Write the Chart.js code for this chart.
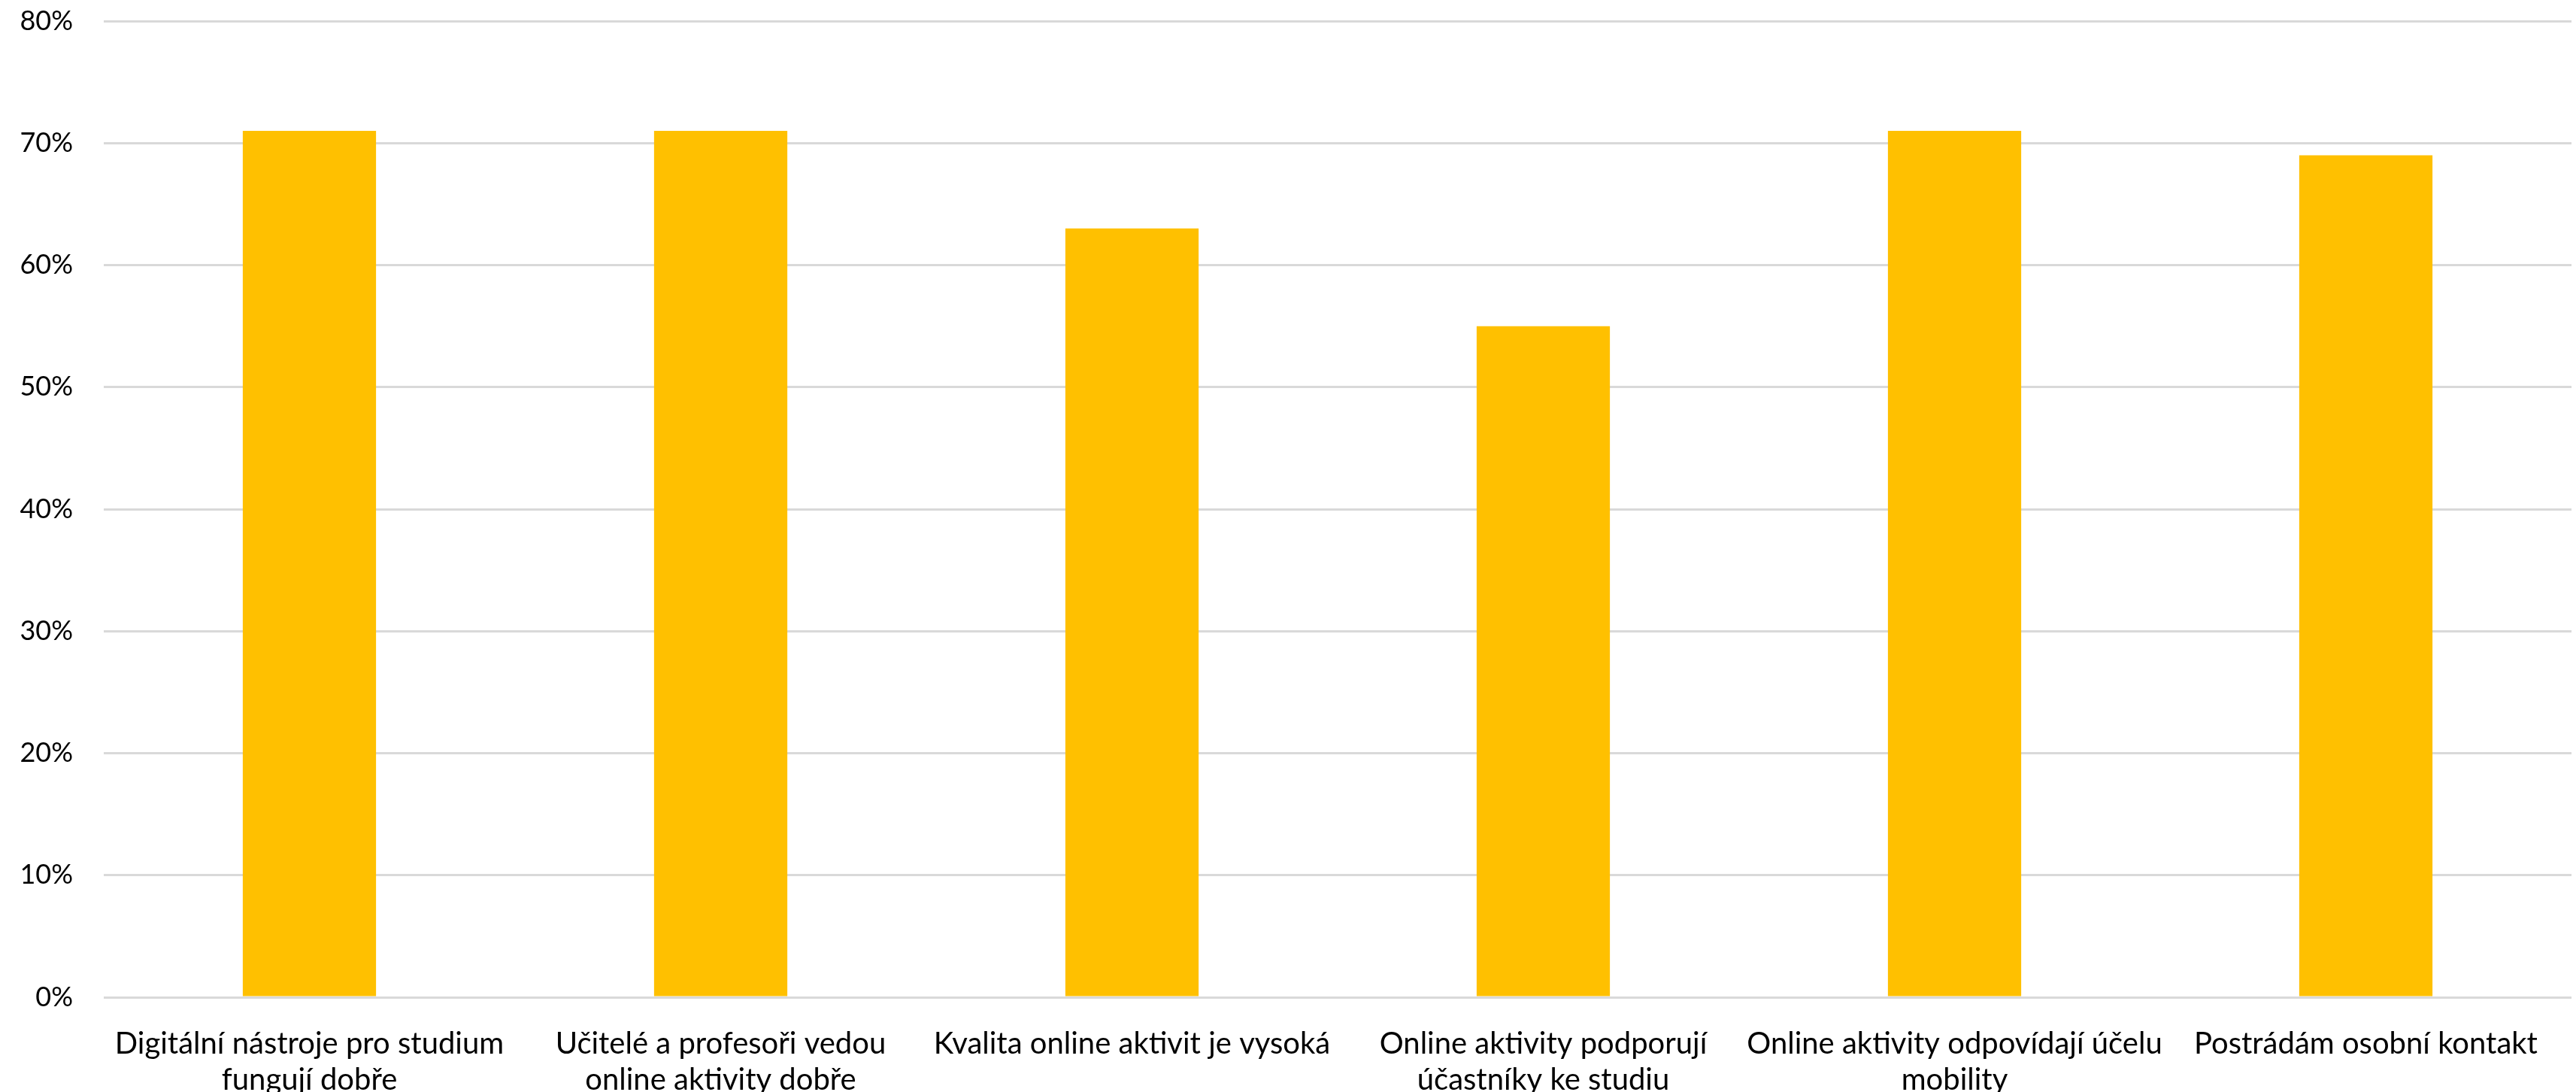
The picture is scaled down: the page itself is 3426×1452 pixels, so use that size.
<!DOCTYPE html>
<html>
<head>
<meta charset="utf-8">
<script src="https://cdn.jsdelivr.net/npm/chart.js@4"></script>
<style>
  html, body { margin: 0; padding: 0; background: #fff; }
  #wrap { width: 3426px; height: 1452px; }
</style>
</head>
<body>
<div id="wrap"><canvas id="chart" width="3426" height="1452"></canvas></div>
<script>
const categories = [
  ['Digitální nástroje pro studium', 'fungují dobře'],
  ['Učitelé a profesoři vedou', 'online aktivity dobře'],
  'Kvalita online aktivit je vysoká',
  ['Online aktivity podporují', 'účastníky ke studiu'],
  ['Online aktivity odpovídají účelu', 'mobility'],
  'Postrádám osobní kontakt'
];
const values = [71, 71, 63, 55, 71, 69];
const yTicks = [0, 10, 20, 30, 40, 50, 60, 70, 80];

const font = "Lato, 'Open Sans', sans-serif";

const ctx = document.getElementById('chart').getContext('2d');
new Chart(ctx, {
  type: 'bar',
  data: {
    labels: categories,
    datasets: [{
      data: values,
      backgroundColor: '#FFC000',
      borderWidth: 0,
      barPercentage: 0.324,
      categoryPercentage: 1
    }]
  },
  options: {
    responsive: false,
    devicePixelRatio: 1,
    animation: false,
    layout: { padding: { top: 28, right: 6, left: 0, bottom: -38 } },
    plugins: { legend: { display: false }, tooltip: { enabled: false } },
    scales: {
      x: {
        grid: { display: false },
        border: { display: false },
        afterFit: (axis) => { axis.paddingLeft = 0; axis.paddingRight = 0; },
        ticks: {
          color: '#000',
          font: { family: font, size: 40, lineHeight: 1.2 },
          maxRotation: 0,
          autoSkip: false,
          padding: 30
        }
      },
      y: {
        min: 0,
        max: 80,
        afterBuildTicks: (axis) => { axis.ticks = yTicks.map(v => ({ value: v })); },
        // keep the top and left of the plot where the reference has them
        afterFit: (axis) => { axis.paddingTop = 0; axis.width = 138; },
        grid: { color: '#d9d9d9', lineWidth: 3, drawTicks: false },
        border: { display: false },
        ticks: {
          color: '#000',
          font: { family: font, size: 36 },
          padding: 41,
          callback: (v) => v + '%'
        }
      }
    }
  }
});
</script>
</body>
</html>
